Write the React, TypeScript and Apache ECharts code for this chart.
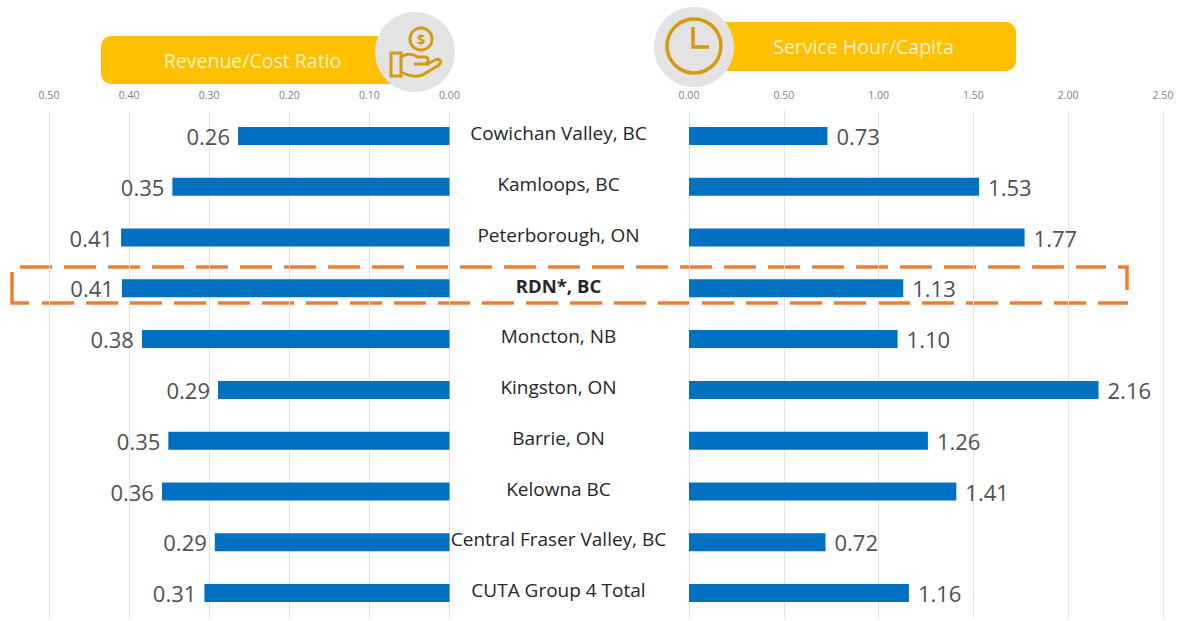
import React, { useEffect, useRef } from "react";
import * as echarts from "echarts";

const categories = ["Cowichan Valley, BC", "Kamloops, BC", "Peterborough, ON", "RDN*, BC", "Moncton, NB", "Kingston, ON", "Barrie, ON", "Kelowna BC", "Central Fraser Valley, BC", "CUTA Group 4 Total"];
const revenueCost = [0.264, 0.346, 0.41, 0.409, 0.384, 0.289, 0.351, 0.359, 0.293, 0.306];
const serviceHours = [0.73, 1.53, 1.77, 1.13, 1.1, 2.16, 1.26, 1.41, 0.72, 1.16];
const FONT = "'Open Sans', sans-serif";

echarts.graphic.registerShape("handIcon", echarts.graphic.extendPath(
  "M0 0H10V23H0Z M10 4C16 0 22 1 27 4H34C38 4 38 11 34 11H23 M10 19C20 24 28 25 35 20L48 12C52 8 48 5 44 7L35 12", {}
) as any);

export default function App() {
  const ref = useRef<HTMLDivElement>(null);
  useEffect(() => {
    const chart = echarts.init(ref.current!, undefined, { renderer: "svg" });
    const axisLabel = { color: "#808080", fontSize: 10.5, fontFamily: FONT, margin: 10, formatter: (v: number) => v.toFixed(2) };
    const splitLine = { show: true, lineStyle: { color: "#e3e3e3", width: 1 } };
    const orange = { stroke: "#ED7D31", lineWidth: 3.5, fill: "none" };
    const dashed = { ...orange, lineDash: [32, 12] };
    const gold = { stroke: "#D39B12", fill: "none" };
    chart.setOption({
      animation: false,
      backgroundColor: "#ffffff",
      grid: [
        { left: 49, width: 400.5, top: 110.5, height: 508 },
        { left: 689, width: 474, top: 110.5, height: 508 },
      ],
      xAxis: [
        { type: "value", gridIndex: 0, position: "top", inverse: true, min: 0, max: 0.5, interval: 0.1, axisLine: { show: false }, axisTick: { show: false }, axisLabel, splitLine },
        { type: "value", gridIndex: 1, position: "top", min: 0, max: 2.5, interval: 0.5, axisLine: { show: false }, axisTick: { show: false }, axisLabel, splitLine },
      ],
      yAxis: [
        {
          type: "category", gridIndex: 0, position: "right", inverse: true, data: categories,
          axisLine: { show: false }, axisTick: { show: false },
          axisLabel: {
            interval: 0, margin: 109, align: "center", color: "#262626", fontSize: 19, fontFamily: FONT,
            padding: [0, 0, 6, 0],
            formatter: (v: string) => (v.startsWith("RDN") ? `{b|${v}}` : v),
            rich: { b: { fontWeight: "bold", fontSize: 18.5, fontFamily: FONT, color: "#262626" } },
          },
        },
        { type: "category", gridIndex: 1, inverse: true, data: categories, axisLine: { show: false }, axisTick: { show: false }, axisLabel: { show: false } },
      ],
      series: [
        {
          type: "bar", xAxisIndex: 0, yAxisIndex: 0, data: revenueCost, barWidth: 18, itemStyle: { color: "#0070C0" },
          label: { show: true, position: "left", distance: 8, fontSize: 22, fontFamily: FONT, color: "#505050", formatter: (p: any) => p.value.toFixed(2) },
        },
        {
          type: "bar", xAxisIndex: 1, yAxisIndex: 1, data: serviceHours, barWidth: 18, itemStyle: { color: "#0070C0" },
          label: { show: true, position: "right", distance: 9, fontSize: 22, fontFamily: FONT, color: "#505050", formatter: (p: any) => p.value.toFixed(2) },
        },
      ],
      graphic: [
        { type: "rect", shape: { x: 101, y: 36, width: 300, height: 48, r: 10 }, style: { fill: "#FFC000" } },
        { type: "text", x: 252.5, y: 60, style: { text: "Revenue/Cost Ratio", fill: "#FFF2CC", fontSize: 19.5, fontFamily: FONT, align: "center", verticalAlign: "middle" } },
        { type: "circle", shape: { cx: 415, cy: 52, r: 40 }, style: { fill: "#E3E3E3" } },
        { type: "circle", shape: { cx: 421, cy: 39, r: 11 }, style: { ...gold, lineWidth: 3 } },
        { type: "text", x: 421, y: 39, style: { text: "$", fill: "#D39B12", fontSize: 15, fontWeight: "bold", fontFamily: FONT, align: "center", verticalAlign: "middle" } },
        { type: "handIcon", x: 391, y: 53, style: { ...gold, lineWidth: 3 } },

        { type: "rect", shape: { x: 700, y: 22, width: 316, height: 49, r: 10 }, style: { fill: "#FFC000" } },
        { type: "text", x: 863.5, y: 46.5, style: { text: "Service Hour/Capita", fill: "#FFF2CC", fontSize: 19.5, fontFamily: FONT, align: "center", verticalAlign: "middle" } },
        { type: "circle", shape: { cx: 694, cy: 47, r: 40 }, style: { fill: "#E3E3E3" } },
        { type: "circle", shape: { cx: 694, cy: 46, r: 27 }, style: { ...gold, lineWidth: 3.5 } },
        { type: "polyline", shape: { points: [[693, 27], [693, 47], [709, 47]] }, style: { ...gold, lineWidth: 3.5 } },

        { type: "line", shape: { x1: 20, y1: 267, x2: 1106, y2: 267 }, style: dashed },
        { type: "line", shape: { x1: 42, y1: 303, x2: 1128, y2: 303 }, style: dashed },
        { type: "polyline", shape: { points: [[12, 272], [12, 303], [29, 303]] }, style: orange },
        { type: "polyline", shape: { points: [[1118, 267], [1127, 267], [1127, 290]] }, style: orange },
      ],
    });
    return () => chart.dispose();
  }, []);
  return <div ref={ref} style={{ position: "fixed", left: 0, top: 0, width: 1178, height: 621 }} />;
}
